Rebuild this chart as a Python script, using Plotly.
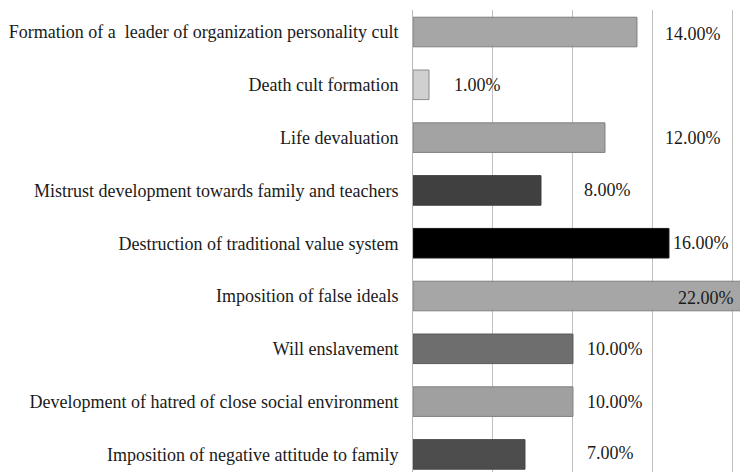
import plotly.graph_objects as go

categories = [
    "Formation of a  leader of organization personality cult",
    "Death cult formation",
    "Life devaluation",
    "Mistrust development towards family and teachers",
    "Destruction of traditional value system",
    "Imposition of false ideals",
    "Will enslavement",
    "Development of hatred of close social environment",
    "Imposition of negative attitude to family",
]
values = [14, 1, 12, 8, 16, 22, 10, 10, 7]
value_labels = ["14.00%", "1.00%", "12.00%", "8.00%", "16.00%", "22.00%", "10.00%", "10.00%", "7.00%"]

# styling / label placement (data units of the x axis, left edge of label text)
bar_colors = ["#a6a6a6", "#d0d0d0", "#a3a3a3", "#404040", "#000000", "#a6a6a6", "#6e6e6e", "#a0a0a0", "#4d4d4d"]
line_colors = ["#7f7f7f", "#8a8a8a", "#7f7f7f", "#3a3a3a", "#1a1a1a", "#7f7f7f", "#5a5a5a", "#7f7f7f", "#444444"]
label_x = [15.6, 2.45, 15.6, 10.55, 16.15, 16.45, 10.75, 10.75, 10.75]
label_dy = [-2, 0, 0, 0, 0, -2, 0, 0, 1]

SERIF = "Liberation Serif, Times New Roman, DejaVu Serif, serif"

fig = go.Figure(
    go.Bar(
        x=values,
        y=list(range(len(categories))),
        orientation="h",
        marker=dict(color=bar_colors, line=dict(color=line_colors, width=1)),
        width=0.56,
        hoverinfo="skip",
    )
)

for i, (lx, t) in enumerate(zip(label_x, value_labels)):
    fig.add_annotation(
        x=lx, y=i, text=t, showarrow=False, xanchor="left", yanchor="middle",
        yshift=label_dy[i],
        font=dict(family=SERIF, size=18, color="#1a1a1a"),
    )

fig.update_layout(
    width=740, height=464,
    margin=dict(l=405, r=0, t=2, b=0, autoexpand=False),
    paper_bgcolor="white", plot_bgcolor="white",
    showlegend=False,
    font=dict(family=SERIF, size=18, color="#1a1a1a"),
)
fig.update_xaxes(
    range=[0, 20.94], dtick=5, showgrid=True, gridcolor="#c0c0c0", gridwidth=1,
    showticklabels=False, zeroline=False, showline=False, fixedrange=True,
)
fig.update_yaxes(
    tickmode="array", tickvals=list(range(len(categories))), ticktext=categories,
    range=[8.333, -0.417], showgrid=False, zeroline=False,
    showline=True, linecolor="#b8b8b8", linewidth=1,
    ticks="outside", ticklen=10, tickcolor="rgba(0,0,0,0)",
    tickfont=dict(family=SERIF, size=18, color="#1a1a1a"),
)

fig.write_html("out.html")
